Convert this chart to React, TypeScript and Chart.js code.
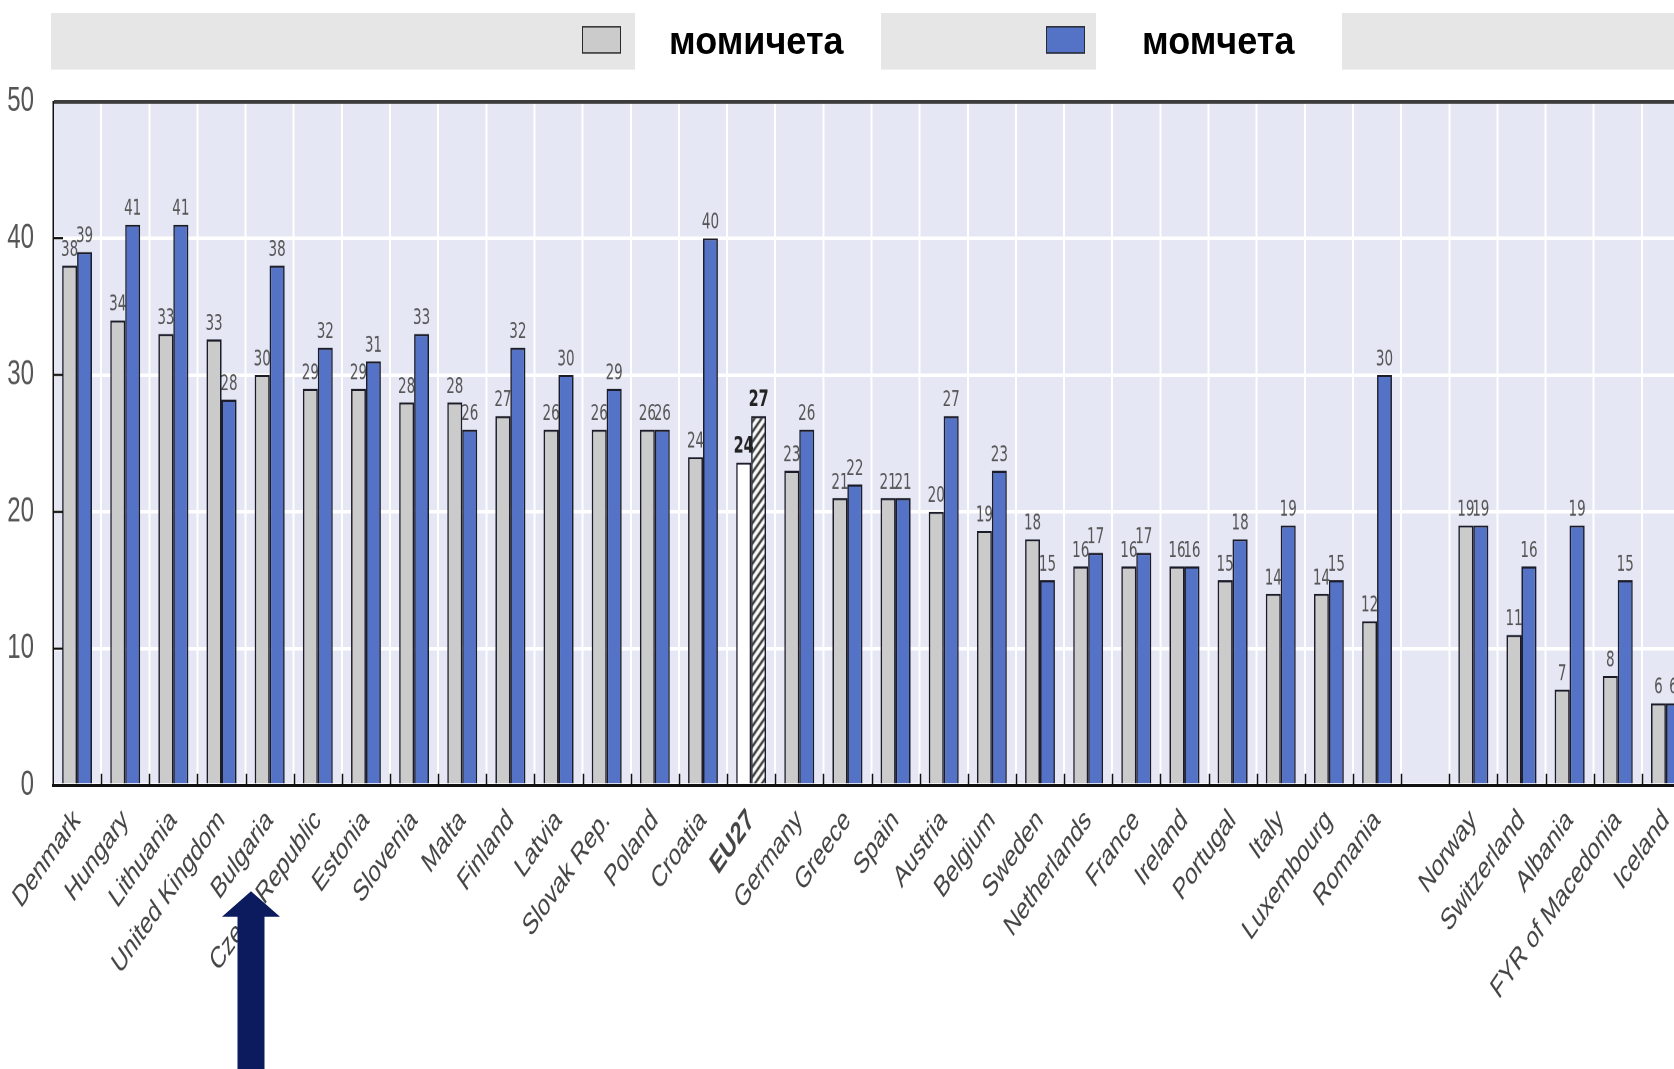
import React, { useEffect, useRef } from 'react';
import { Chart, registerables } from 'chart.js';

Chart.register(...registerables);

// ---------- data ----------
const categories = [
  'Denmark', 'Hungary', 'Lithuania', 'United Kingdom', 'Bulgaria', 'Czech Republic',
  'Estonia', 'Slovenia', 'Malta', 'Finland', 'Latvia', 'Slovak Rep.', 'Poland',
  'Croatia', 'EU27', 'Germany', 'Greece', 'Spain', 'Austria', 'Belgium', 'Sweden',
  'Netherlands', 'France', 'Ireland', 'Portugal', 'Italy', 'Luxembourg', 'Romania',
  '', 'Norway', 'Switzerland', 'Albania', 'FYR of Macedonia', 'Iceland',
];
const girls = [
  38, 34, 33, 32.6, 30, 29, 29, 28, 28, 27, 26, 26, 26, 24, 23.6, 23, 21, 21, 20, 18.6,
  18, 16, 16, 16, 15, 14, 14, 12, null, 19, 11, 7, 8, 6,
];
const boys = [
  39, 41, 41, 28.2, 38, 32, 31, 33, 26, 32, 30, 29, 26, 40, 27, 26, 22, 21, 27, 23,
  15, 17, 17, 16, 18, 19, 15, 30, null, 19, 16, 19, 15, 6,
];
const seriesLabels = ['момичета', 'момчета'];
const yTicks = [0, 10, 20, 30, 40, 50];
const highlight = 'EU27';

// ---------- layout / style ----------
const FRAME_W = 1700;
const FRAME_H = 737;
const STRETCH = 1069 / FRAME_H;
const PLOT_LEFT = 53;
const PLOT_TOP = 70;
const PLOT_BOTTOM = 541.4;
const PAD_RIGHT = 10;

const GREY = '#cbcbcb';
const BLUE = '#5473c6';
const EDGE = '#1c1c28';
const PLOT_BG = '#e5e7f4';
const BAND = '#e6e6e6';
const SANS = "'Liberation Sans', Arial, sans-serif";
const NARROW = "'Liberation Sans Narrow', 'Arial Narrow', 'DejaVu Sans Condensed', sans-serif";

function makeHatch(): CanvasPattern | string {
  const c = document.createElement('canvas');
  const n = 7;
  c.width = n;
  c.height = n;
  const g = c.getContext('2d');
  if (!g) return '#ffffff';
  g.fillStyle = '#ffffff';
  g.fillRect(0, 0, n, n);
  g.strokeStyle = '#222';
  g.lineWidth = 1.8;
  g.beginPath();
  g.moveTo(-2, n + 2);
  g.lineTo(n + 2, -2);
  g.moveTo(-2, 2);
  g.lineTo(2, -2);
  g.moveTo(n - 2, n + 2);
  g.lineTo(n + 2, n - 2);
  g.stroke();
  return g.createPattern(c, 'repeat') || '#ffffff';
}

const plotBg = {
  id: 'plotBg',
  beforeDraw(chart: any) {
    const { ctx, chartArea: a } = chart;
    ctx.save();
    ctx.fillStyle = PLOT_BG;
    ctx.fillRect(a.left, a.top, a.right - a.left, a.bottom - a.top);
    ctx.restore();
  },
};

const innerTicks = {
  id: 'innerTicks',
  afterDatasetsDraw(chart: any) {
    const { ctx, chartArea: a, scales } = chart;
    const x = scales.x;
    const y = scales.y;
    ctx.save();
    ctx.strokeStyle = '#111';
    ctx.lineWidth = 1.5;
    ctx.beginPath();
    const n = x.ticks.length;
    for (let i = 1; i < n; i++) {
      const px = Math.round((x.getPixelForTick(i - 1) + x.getPixelForTick(i)) / 2) + 0.5;
      ctx.moveTo(px, a.bottom);
      ctx.lineTo(px, a.bottom - 8);
    }
    yTicks.forEach((v) => {
      if (v === 0 || v === 50) return;
      const py = y.getPixelForValue(v);
      ctx.moveTo(a.left, py);
      ctx.lineTo(a.left + 10, py);
    });
    ctx.stroke();
    ctx.restore();
  },
};

const valueLabels = {
  id: 'valueLabels',
  afterDatasetsDraw(chart: any) {
    const { ctx } = chart;
    ctx.save();
    ctx.textAlign = 'center';
    ctx.textBaseline = 'bottom';
    chart.data.datasets.forEach((ds: any, di: number) => {
      const meta = chart.getDatasetMeta(di);
      meta.data.forEach((el: any, i: number) => {
        const v = ds.data[i];
        if (v == null) return;
        const hl = categories[i] === highlight;
        ctx.font = hl ? `bold 16px ${NARROW}` : `15px ${NARROW}`;
        ctx.fillStyle = hl ? '#222' : '#555';
        ctx.fillText(String(Math.round(v)), el.x, el.y - 3);
      });
    });
    ctx.restore();
  },
};

export default function App() {
  const ref = useRef<HTMLCanvasElement>(null);

  useEffect(() => {
    document.body.style.margin = '0';
    if (!ref.current) return;
    const hatch = makeHatch();
    const hlIndex = categories.indexOf(highlight);
    const girlColors = categories.map((_, i) => (i === hlIndex ? '#ffffff' : GREY));
    const boyColors = categories.map((_, i) => (i === hlIndex ? hatch : BLUE));

    const chart = new Chart(ref.current, {
      type: 'bar',
      data: {
        labels: categories,
        datasets: [
          {
            label: seriesLabels[0],
            data: girls,
            backgroundColor: girlColors,
            borderColor: EDGE,
            borderWidth: 1.5,
            categoryPercentage: 0.62,
            barPercentage: 1.0,
          },
          {
            label: seriesLabels[1],
            data: boys,
            backgroundColor: boyColors as any,
            borderColor: EDGE,
            borderWidth: 1.5,
            categoryPercentage: 0.62,
            barPercentage: 1.0,
          },
        ],
      },
      options: {
        responsive: false,
        maintainAspectRatio: false,
        devicePixelRatio: 2,
        animation: false,
        layout: { padding: { left: 0, top: PLOT_TOP, right: PAD_RIGHT, bottom: 0 } },
        plugins: {
          legend: { display: false },
          tooltip: { enabled: false },
          title: { display: false },
        },
        scales: {
          x: {
            offset: true,
            grid: { color: '#ffffff', lineWidth: 2, drawTicks: false, offset: true },
            border: { display: true, color: '#111', width: 2 },
            ticks: {
              autoSkip: false,
              minRotation: 45,
              maxRotation: 45,
              padding: 12,
              color: '#444',
              font: (c: any) => ({
                family: SANS,
                size: 21,
                weight: categories[c.index] === highlight ? 'bold' : 'normal',
              }),
            },
            afterFit: (s: any) => {
              s.height = FRAME_H - PLOT_BOTTOM;
            },
          },
          y: {
            min: 0,
            max: 50,
            afterBuildTicks: (s: any) => {
              s.ticks = yTicks.map((v) => ({ value: v }));
            },
            grid: {
              color: (c: any) => (c.tick && c.tick.value === 50 ? '#3c3c3c' : '#ffffff'),
              lineWidth: 2.5,
              drawTicks: false,
            },
            border: { display: true, color: '#111', width: 1.5 },
            ticks: {
              padding: 19,
              color: '#555',
              font: { family: SANS, size: 24 },
            },
            afterFit: (s: any) => {
              s.width = PLOT_LEFT;
            },
          },
        },
      },
      plugins: [plotBg, innerTicks, valueLabels],
    });
    return () => chart.destroy();
  }, []);

  const band = (left: number, width: number) => (
    <div
      style={{
        position: 'absolute',
        left,
        top: 9,
        width,
        height: 39,
        background: BAND,
      }}
    />
  );
  const box = (left: number, color: string) => (
    <div
      style={{
        position: 'absolute',
        left,
        top: 17.5,
        width: 37,
        height: 17,
        background: color,
        border: '1.5px solid #2a2a2a',
      }}
    />
  );
  const text = (left: number, t: string) => (
    <span
      style={{
        position: 'absolute',
        left,
        top: 10,
        fontFamily: SANS,
        fontWeight: 'bold',
        fontSize: 36,
        lineHeight: '36px',
        color: '#000',
        whiteSpace: 'nowrap',
        transform: 'scaleY(0.76)',
        transformOrigin: '0 50%',
      }}
    >
      {t}
    </span>
  );

  return (
    <div
      style={{
        position: 'relative',
        width: 1674,
        height: 1069,
        overflow: 'hidden',
        background: '#ffffff',
      }}
    >
      <div
        style={{
          position: 'absolute',
          left: 0,
          top: 0,
          width: FRAME_W,
          height: FRAME_H,
          transform: `scaleY(${STRETCH})`,
          transformOrigin: '0 0',
        }}
      >
        {band(51, 584)}
        {band(881, 215)}
        {band(1342, 360)}
        {box(582, GREY)}
        {text(669, seriesLabels[0])}
        {box(1046, BLUE)}
        {text(1142, seriesLabels[1])}
        <canvas
          ref={ref}
          width={FRAME_W}
          height={FRAME_H}
          style={{ position: 'absolute', left: 0, top: 0, width: FRAME_W, height: FRAME_H }}
        />
        <svg
          width={FRAME_W}
          height={FRAME_H}
          style={{ position: 'absolute', left: 0, top: 0, pointerEvents: 'none' }}
        >
          <polygon
            points="251,614.5 222,632 237.5,632 237.5,745 264.5,745 264.5,632 280,632"
            fill="#0c1b5e"
          />
        </svg>
      </div>
    </div>
  );
}
